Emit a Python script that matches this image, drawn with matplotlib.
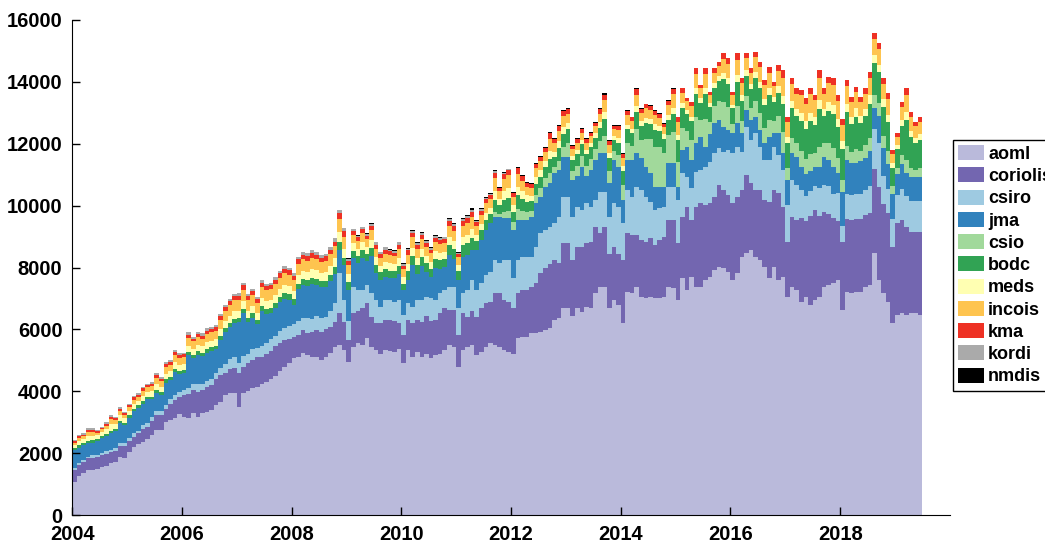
import numpy as np
import matplotlib
matplotlib.use("Agg")
import matplotlib.pyplot as plt
from matplotlib.patches import Patch

plt.rcParams['font.family'] = ['Liberation Sans', 'DejaVu Sans']
plt.rcParams['font.weight'] = 'bold'

# monthly profile counts, Jan 2004 .. Jun 2019
aoml = [
    1080, 1250, 1350, 1450, 1470, 1500, 1560, 1600, 1670, 1700, 1880, 1850,  # 2004
    2050, 2210, 2290, 2370, 2450, 2600, 2750, 2750, 3000, 3070, 3150, 3250,  # 2005
    3180, 3120, 3290, 3180, 3290, 3340, 3390, 3550, 3660, 3880, 3930, 3950,  # 2006
    3500, 3950, 4000, 4100, 4150, 4250, 4300, 4400, 4500, 4650, 4800, 4900,  # 2007
    5060, 5110, 5230, 5170, 5110, 5110, 5010, 5100, 5230, 5440, 5490, 5330,  # 2008
    4960, 5440, 5550, 5500, 5710, 5440, 5330, 5220, 5330, 5300, 5280, 5380,  # 2009
    4900, 5330, 5120, 5280, 5120, 5220, 5060, 5170, 5220, 5330, 5490, 5440,  # 2010
    4790, 5330, 5440, 5490, 5170, 5280, 5440, 5550, 5490, 5440, 5330, 5280,  # 2011
    5220, 5710, 5760, 5760, 5870, 5870, 5930, 5980, 6030, 6300, 6360, 6680,  # 2012
    6680, 6440, 6680, 6570, 6730, 6680, 7160, 7380, 7380, 6680, 6950, 6790,  # 2013
    6200, 7220, 7160, 7380, 7060, 7000, 7060, 7000, 7000, 7060, 7380, 7330,  # 2014
    6950, 7650, 7270, 7700, 7380, 7380, 7600, 7700, 7920, 8030, 7970, 7860,  # 2015
    7600, 7810, 8350, 8460, 8570, 8350, 8240, 8010, 7650, 8010, 7600, 7700,  # 2016
    7060, 7380, 7270, 6900, 7060, 6780, 6950, 7060, 7380, 7430, 7490, 7600,  # 2017
    6630, 7220, 7160, 7220, 7220, 7380, 7430, 8460, 7600, 7160, 6890, 6200,  # 2018
    6480, 6520, 6480, 6520, 6520, 6480,                                      # 2019
]
coriolis = [
    380, 360, 350, 380, 370, 360, 380, 370, 360, 380, 350, 380,
    330, 320, 350, 420, 400, 430, 480, 470, 440, 520, 560, 550,
    700, 800, 750, 800, 750, 800, 800, 850, 850, 720, 800, 800,
    1100, 850, 900, 900, 950, 850, 900, 900, 950, 900, 850, 800,
    700, 710, 750, 700, 820, 870, 900, 900, 850, 810, 1030, 920,
    700, 1080, 1030, 1180, 1130, 970, 870, 1000, 970, 1000, 1000, 820,
    920, 980, 1080, 1030, 1130, 1200, 1200, 1140, 1300, 1350, 1150, 1200,
    1030, 1190, 970, 1090, 1240, 1400, 1400, 1340, 1670, 1720, 1620, 1600,
    1460, 1450, 1510, 1510, 1510, 1620, 1880, 2010, 2070, 1940, 1770, 2100,
    2100, 1800, 1990, 2100, 2050, 2150, 2160, 1720, 1940, 1770, 1720, 1660,
    2040, 1880, 1890, 1670, 1840, 1830, 1880, 1730, 1890, 1940, 2150, 2200,
    1830, 1990, 2690, 1830, 2580, 2690, 2420, 2400, 2370, 2640, 2530, 2480,
    2470, 2480, 2150, 2530, 2150, 2150, 2260, 2170, 2480, 2490, 2800, 2260,
    1770, 2260, 2260, 2700, 2450, 2900, 2900, 2600, 2400, 2300, 2100, 1900,
    2200, 2360, 2370, 2360, 2360, 2320, 2320, 2710, 3010, 2890, 2860, 2470,
    2950, 3010, 2830, 2640, 2640, 2680,
]
csiro = [
    60, 70, 80, 60, 90, 70, 80, 90, 70, 80, 100, 90,
    100, 120, 90, 130, 110, 140, 120, 150, 130, 160, 180, 170,
    150, 200, 180, 250, 200, 180, 220, 200, 250, 280, 300, 350,
    300, 350, 300, 350, 300, 350, 350, 400, 350, 400, 400, 400,
    400, 450, 400, 500, 400, 450, 450, 400, 500, 600, 1300, 700,
    600, 860, 690, 590, 600, 750, 750, 500, 650, 650, 600, 750,
    640, 530, 530, 640, 700, 640, 750, 640, 640, 600, 740, 740,
    860, 640, 860, 1020, 860, 810, 920, 980, 1080, 970, 1290, 1360,
    970, 1080, 1080, 1080, 970, 1180, 1290, 1220, 1220, 1190, 1510, 1510,
    1510, 1400, 1290, 1190, 1290, 1130, 860, 1350, 1130, 1190, 1400, 1510,
    1190, 1400, 1240, 1560, 1600, 1460, 1190, 1130, 1020, 960, 1080, 1080,
    1400, 1400, 970, 1030, 1140, 1080, 1240, 1300, 1400, 1180, 1240, 1460,
    1620, 1610, 1240, 1560, 1400, 1840, 1400, 1290, 1340, 1400, 1240, 1190,
    1200, 1190, 1140, 900, 800, 800, 800, 900, 900, 900, 800, 900,
    500, 800, 800, 800, 800, 800, 900, 1300, 1400, 900, 800, 900,
    900, 1000, 1000, 1000, 1000, 1000,
]
jma = [
    580, 500, 480, 430, 410, 470, 460, 500, 540, 540, 630, 580,
    660, 700, 740, 680, 780, 570, 590, 520, 710, 610, 730, 600,
    560, 1040, 860, 950, 900, 930, 900, 750, 890, 1020, 1040, 1110,
    1330, 1370, 1030, 1020, 760, 1150, 960, 840, 890, 930, 940, 860,
    640, 1020, 1060, 1030, 1150, 1010, 1010, 980, 990, 940, 750, 1120,
    1010, 920, 860, 1050, 770, 1200, 880, 890, 740, 710, 770, 850,
    800, 760, 1350, 850, 1090, 790, 670, 1030, 790, 730, 1030, 910,
    920, 1190, 1130, 960, 1290, 1400, 1450, 1560, 1400, 1510, 1350, 1350,
    1560, 1290, 1180, 1180, 1290, 1400, 1190, 1400, 1400, 1610, 1510, 1290,
    1290, 1190, 1010, 1400, 900, 1190, 1290, 1240, 1240, 1080, 1400, 1300,
    750, 970, 1180, 1080, 1030, 970, 910, 750, 700, 650, 760, 760,
    430, 760, 970, 910, 910, 1080, 640, 900, 970, 920, 810, 640,
    650, 760, 600, 540, 650, 530, 540, 540, 760, 440, 700, 540,
    800, 860, 910, 760, 700, 650, 600, 700, 900, 840, 870, 640,
    1100, 1100, 1050, 1000, 1050, 1050, 1100, 700, 900, 900, 800, 800,
    700, 800, 750, 750, 750, 750,
]
csio = [0] * 84 + [
    0, 0, 0, 0, 0, 0, 0, 0, 150, 100, 200, 250,
    250, 350, 300, 250, 200, 280, 280, 280, 350, 220, 300, 320,
    450, 300, 320, 350, 320, 350, 350, 400, 550, 400, 300, 380,
    500, 550, 450, 800, 600, 900, 1100, 1300, 1300, 1100, 900, 1000,
    800, 700, 500, 650, 850, 550, 900, 400, 550, 600, 800, 750,
    300, 550, 400, 450, 400, 500, 550, 500, 550, 400, 550, 700,
    400, 500, 450, 500, 500, 550, 450, 650, 450, 550, 600, 500,
    400, 450, 350, 450, 350, 400, 450, 400, 400, 400, 400, 250,
    200, 300, 400, 300, 250, 300,
]
bodc = [
    60, 70, 60, 80, 70, 60, 70, 70, 90, 80, 90, 80,
    80, 80, 70, 90, 80, 90, 100, 90, 100, 100, 110, 100,
    100, 110, 100, 110, 110, 120, 120, 120, 130, 130, 140, 140,
    140, 150, 140, 150, 140, 150, 150, 150, 160, 160, 170, 170,
    170, 180, 180, 180, 190, 190, 180, 190, 200, 220, 260, 230,
    260, 240, 230, 250, 230, 270, 250, 230, 250, 240, 230, 260,
    220, 280, 300, 270, 300, 280, 260, 290, 280, 260, 320, 310,
    280, 380, 400, 400, 300, 310, 330, 300, 400, 280, 400, 420,
    350, 450, 400, 350, 300, 360, 360, 360, 440, 300, 400, 400,
    450, 350, 370, 380, 370, 380, 380, 430, 550, 420, 350, 400,
    450, 450, 420, 550, 450, 500, 500, 550, 500, 450, 500, 600,
    700, 650, 550, 600, 750, 550, 800, 500, 600, 650, 750, 750,
    500, 800, 650, 650, 600, 750, 800, 750, 800, 600, 750, 900,
    800, 950, 870, 980, 970, 1050, 920, 1200, 870, 1050, 1100, 1000,
    1000, 1100, 900, 1050, 900, 950, 1100, 1050, 1000, 950, 950, 600,
    600, 950, 1300, 1000, 850, 900,
]
meds = [
    110, 140, 130, 160, 150, 120, 130, 150, 200, 160, 180, 150,
    150, 160, 150, 170, 160, 170, 190, 170, 190, 180, 200, 190,
    190, 200, 190, 200, 200, 210, 210, 210, 220, 230, 230, 240,
    240, 250, 240, 250, 230, 250, 250, 250, 260, 260, 270, 270,
    270, 280, 280, 280, 280, 280, 270, 280, 290, 290, 320, 300,
    260, 240, 230, 250, 220, 270, 250, 220, 240, 240, 230, 260,
    200, 240, 260, 240, 260, 240, 230, 250, 240, 230, 270, 260,
    200, 250, 260, 280, 200, 210, 220, 200, 280, 200, 280, 300,
    200, 280, 230, 200, 180, 210, 210, 200, 270, 180, 230, 240,
    180, 130, 140, 140, 140, 140, 140, 170, 230, 160, 130, 150,
    150, 150, 140, 180, 150, 170, 170, 170, 160, 150, 160, 200,
    180, 160, 130, 160, 200, 150, 200, 130, 160, 160, 200, 200,
    120, 220, 170, 180, 160, 200, 210, 200, 220, 160, 220, 260,
    200, 240, 220, 250, 250, 270, 240, 320, 220, 270, 290, 250,
    250, 270, 230, 260, 220, 230, 270, 250, 250, 240, 240, 150,
    130, 200, 270, 210, 180, 190,
]
incois = [
    60, 100, 90, 120, 110, 80, 90, 110, 160, 120, 140, 100,
    120, 140, 130, 160, 150, 170, 200, 180, 220, 210, 240, 220,
    220, 260, 240, 260, 250, 270, 270, 280, 300, 330, 340, 350,
    340, 360, 330, 340, 320, 360, 350, 350, 360, 370, 380, 370,
    340, 360, 370, 360, 370, 360, 350, 360, 370, 380, 420, 400,
    290, 270, 260, 280, 250, 300, 280, 250, 270, 260, 250, 290,
    260, 300, 330, 300, 320, 300, 290, 310, 300, 290, 340, 330,
    260, 370, 380, 400, 280, 300, 320, 280, 420, 250, 400, 420,
    280, 400, 330, 270, 250, 290, 290, 290, 380, 270, 330, 350,
    300, 220, 230, 230, 230, 230, 230, 280, 380, 270, 220, 260,
    260, 300, 260, 370, 280, 310, 290, 310, 270, 240, 330, 430,
    420, 340, 290, 330, 460, 310, 470, 250, 330, 330, 430, 430,
    300, 480, 400, 400, 370, 470, 480, 450, 490, 370, 480, 580,
    480, 550, 500, 570, 570, 600, 540, 700, 500, 620, 650, 580,
    530, 570, 480, 520, 450, 480, 560, 500, 500, 480, 500, 300,
    270, 420, 560, 440, 370, 410,
]
kma = [
    50, 60, 55, 70, 70, 50, 50, 60, 80, 70, 70, 60,
    60, 70, 60, 70, 70, 80, 90, 80, 100, 90, 100, 90,
    90, 100, 90, 100, 100, 110, 110, 110, 120, 120, 130, 130,
    130, 140, 130, 130, 120, 140, 130, 130, 140, 140, 150, 140,
    140, 150, 150, 150, 150, 150, 140, 150, 150, 160, 180, 170,
    130, 120, 120, 130, 110, 140, 130, 120, 130, 120, 120, 130,
    110, 130, 140, 130, 140, 130, 120, 130, 130, 120, 150, 140,
    100, 150, 160, 170, 120, 130, 130, 120, 170, 100, 160, 170,
    120, 200, 160, 130, 120, 130, 130, 130, 190, 130, 160, 170,
    150, 110, 110, 110, 110, 110, 110, 140, 190, 120, 100, 120,
    120, 140, 110, 170, 110, 140, 130, 130, 120, 90, 130, 170,
    160, 140, 100, 150, 170, 110, 170, 100, 140, 140, 190, 190,
    120, 210, 150, 150, 140, 180, 170, 150, 200, 130, 200, 250,
    160, 180, 170, 180, 170, 190, 170, 250, 170, 200, 210, 200,
    200, 190, 180, 190, 170, 180, 200, 200, 190, 190, 190, 130,
    110, 160, 200, 170, 150, 160,
]
kordi = [
    40, 50, 45, 55, 60, 40, 40, 50, 60, 50, 60, 50,
    50, 50, 50, 60, 50, 60, 60, 60, 70, 60, 70, 60,
    60, 70, 60, 70, 70, 70, 70, 70, 80, 80, 80, 80,
    80, 80, 80, 80, 80, 80, 80, 80, 80, 90, 90, 90,
    90, 90, 90, 90, 90, 90, 90, 90, 90, 100, 110, 100,
    70, 70, 60, 70, 60, 70, 70, 60, 70, 60, 60, 70,
    50, 60, 70, 60, 70, 60, 60, 60, 60, 60, 70, 70,
    40, 60, 60, 60, 40, 40, 50, 40, 60, 10, 40, 20,
    10, 10, 10, 10, 0, 0, 0, 0, 0, 0, 0, 0,
] + [0] * 78
nmdis = [0] * 60 + [
    20, 20, 20, 20, 20, 20, 20, 20, 20, 20, 20, 20,
    30, 30, 30, 30, 30, 30, 30, 30, 30, 30, 30, 30,
    30, 40, 40, 40, 30, 30, 30, 30, 30, 30, 30, 30,
    30, 40, 40, 30, 30, 30, 30, 30, 40, 30, 30, 30,
    30, 20, 30, 30, 30, 30, 30, 30, 40, 30, 30, 30,
    30, 30, 20, 30, 20, 20, 20, 20, 20, 20, 20, 20,
] + [0] * 54

names = ['aoml', 'coriolis', 'csiro', 'jma', 'csio', 'bodc',
         'meds', 'incois', 'kma', 'kordi', 'nmdis']
series = [aoml, coriolis, csiro, jma, csio, bodc, meds, incois, kma, kordi, nmdis]
colors = ['#babadb', '#7366b0', '#9ecae1', '#3182bd', '#a1d99b', '#31a354',
          '#ffffb2', '#fec44f', '#ee3124', '#aaaaaa', '#000000']

n = len(aoml)
edges = 2004 + np.arange(n + 1) / 12.0

fig = plt.figure(figsize=(10.45, 5.42), dpi=100)
ax = fig.add_axes([0.069, 0.0498, 0.84, 0.9133])

# stacked monthly bars drawn as filled steps
base = np.zeros(n)
for name, vals, c in zip(names, series, colors):
    top = base + np.array(vals, dtype=float)
    ax.stairs(top, edges, baseline=base, fill=True, color=c, linewidth=0)
    base = top

ax.set_xlim(2004, 2020)
ax.set_ylim(0, 16000)
ax.set_xticks(range(2004, 2019, 2))
ax.set_yticks(range(0, 16001, 2000))
ax.tick_params(direction='in', length=6, width=1, labelsize=14.5)
ax.tick_params(axis='x', pad=7)
ax.tick_params(axis='y', pad=7)
for lab in ax.get_xticklabels() + ax.get_yticklabels():
    lab.set_fontweight('bold')
ax.spines['top'].set_visible(False)
ax.spines['right'].set_visible(False)

handles = [Patch(facecolor=c, edgecolor='none', label=nm) for nm, c in zip(names, colors)]
leg = fig.legend(handles=handles, loc='upper left', bbox_to_anchor=(0.912, 0.742),
                 bbox_transform=fig.transFigure, fontsize=13, frameon=True,
                 fancybox=False, edgecolor='black', framealpha=1,
                 handlelength=1.4, handleheight=0.9, handletextpad=0.25,
                 labelspacing=0.25, borderpad=0.3, borderaxespad=0)
leg.get_frame().set_linewidth(1)
for t in leg.get_texts():
    t.set_fontweight('bold')

fig.savefig('out.png', dpi=100)
